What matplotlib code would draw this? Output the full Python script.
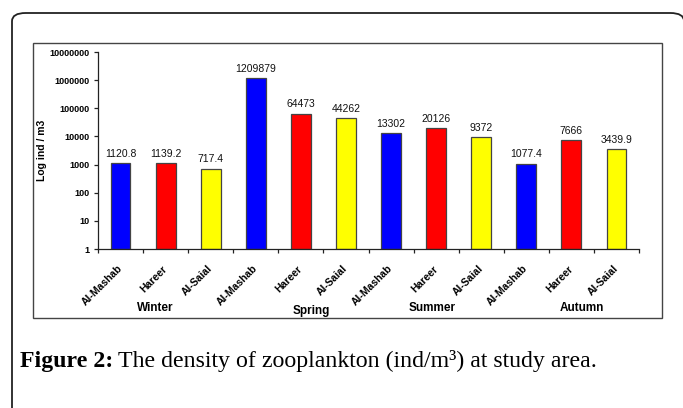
#! /usr/bin/env python3

"""
Zooplankton density at the three stations, per season (log scale bars).
"""
import matplotlib
matplotlib.use('Agg')
import matplotlib.pyplot as plt
from matplotlib.patches import FancyBboxPatch, Rectangle

stations = ["Al-Mashab", "Hareer", "Al-Saial"] * 4
seasons = ["Winter", "Spring", "Summer", "Autumn"]
density = [1120.8, 1139.2, 717.4,
           1209879, 64473, 44262,
           13302, 20126, 9372,
           1077.4, 7666, 3439.9]
density_labels = ["1120.8", "1139.2", "717.4",
                  "1209879", "64473", "44262",
                  "13302", "20126", "9372",
                  "1077.4", "7666", "3439.9"]
bar_colors = ["#0000ff", "#ff0000", "#ffff00"] * 4
y_ticks = [1, 10, 100, 1000, 10000, 100000, 1000000, 10000000]

W, H = 683, 408
SANS = "Liberation Sans"
SERIF = "Liberation Serif"


def px(x, y):
    # pixel position (from top-left) -> figure fraction
    return x / W, 1 - y / H


def main():
    fig = plt.figure(figsize=(W / 100, H / 100), dpi=100)

    # outer rounded frame of the figure panel
    x0, y0 = px(12, 500)
    x1, y1 = px(684, 13)
    fig.patches.append(FancyBboxPatch((x0, y0), x1 - x0, y1 - y0,
                                      boxstyle="round,pad=0,rounding_size=0.02",
                                      transform=fig.transFigure,
                                      facecolor="none", edgecolor="#222222",
                                      linewidth=1.3, clip_on=False))

    # grey chart box
    bx0, by0 = px(33, 318)
    bx1, by1 = px(662, 43)
    fig.patches.append(Rectangle((bx0, by0), bx1 - bx0, by1 - by0,
                                 transform=fig.transFigure,
                                 facecolor="none", edgecolor="#444444",
                                 linewidth=1.0))

    left, top = px(98, 52)
    right, bottom = px(639, 249)
    ax = fig.add_axes([left, bottom, right - left, top - bottom])

    xs = list(range(len(density)))
    ax.bar(xs, density, width=0.44, color=bar_colors,
           edgecolor="#444444", linewidth=0.9, bottom=1)
    for x, v, s in zip(xs, density, density_labels):
        ax.annotate(s, (x, v), xytext=(0, 3), textcoords="offset points",
                    ha="center", va="bottom", fontsize=7.5, family=SANS,
                    color="#111111")

    ax.set_yscale("log")
    ax.set_ylim(1, 10000000)
    ax.set_xlim(-0.5, len(density) - 0.5)
    ax.set_yticks(y_ticks)
    ax.set_yticklabels([str(t) for t in y_ticks], fontsize=6.5,
                       family=SANS, fontweight="bold")
    ax.yaxis.set_minor_locator(matplotlib.ticker.NullLocator())
    ax.tick_params(axis="y", length=3, width=0.9, pad=3, color="#222222")

    ax.set_xticks(xs)
    ax.set_xticklabels(stations, rotation=45, ha="right",
                       rotation_mode="anchor", fontsize=7.5, family=SANS,
                       fontweight="bold", va="center")
    ax.tick_params(axis="x", which="major", length=0, pad=13)
    ax.set_xticks([x - 0.5 for x in xs] + [len(xs) - 0.5], minor=True)
    ax.tick_params(axis="x", which="minor", length=3, width=0.9,
                   color="#222222")

    for side in ("top", "right"):
        ax.spines[side].set_visible(False)
    for side in ("left", "bottom"):
        ax.spines[side].set_color("#222222")
        ax.spines[side].set_linewidth(0.9)

    ax.set_ylabel("Log ind / m3", fontsize=7.5, family=SANS,
                  fontweight="bold", labelpad=2)

    season_x = [155, 311, 432, 582]
    season_y = [308, 311, 308, 308]
    for name, sx, sy in zip(seasons, season_x, season_y):
        fx, fy = px(sx, sy)
        fig.text(fx, fy, name, ha="center", va="center", fontsize=8.5,
                 family=SANS, fontweight="bold")

    # caption below the chart box
    cx, cy = px(20, 361)
    t1 = fig.text(cx, cy, "Figure 2:", ha="left", va="center",
                  fontsize=17.2, family=SERIF, fontweight="bold")
    fig.canvas.draw()
    bb = t1.get_window_extent()
    fig.text((bb.x1 + 5) / W, cy,
             "The density of zooplankton (ind/m\u00b3) at study area.",
             ha="left", va="center", fontsize=17.2, family=SERIF)

    fig.savefig("out.png", dpi=100)


if __name__ == '__main__':
    main()
